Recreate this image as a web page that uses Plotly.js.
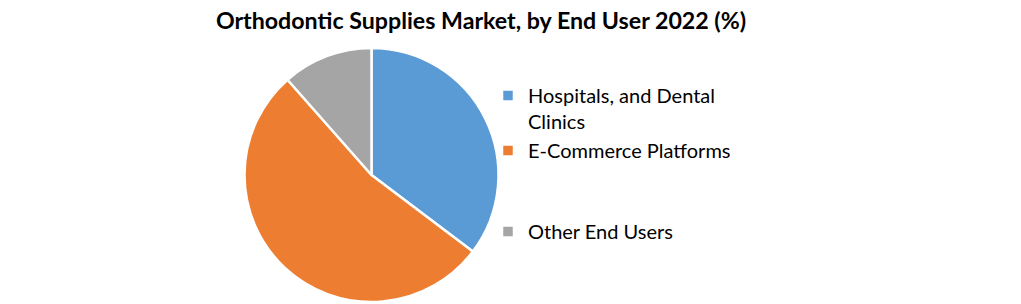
<!DOCTYPE html>
<html>
<head>
<meta charset="utf-8">
<script src="https://cdn.plot.ly/plotly-3.0.1.min.js"></script>
<style>html,body{margin:0;padding:0;background:#fff;}#chart{width:1021px;height:304px;}</style>
</head>
<body>
<div id="chart"></div>
<script>
const categories = ["Hospitals, and Dental<br>Clinics", "E-Commerce Platforms<br> <br> ", "Other End Users"];
const shares = [35.3, 53.2, 11.5];
const colors = ["#5B9BD5", "#ED7D31", "#A5A5A5"];

const W = 1021, H = 304;
const cx = 371.5, cy = 175, R = 127;

const trace = {
  type: "pie",
  labels: categories,
  values: shares,
  sort: false,
  direction: "clockwise",
  rotation: 0,
  textinfo: "none",
  hoverinfo: "label+percent",
  marker: {colors: colors, line: {color: "#ffffff", width: 2.5}},
  domain: {x: [(cx - R) / W, (cx + R) / W], y: [(H - cy - R) / H, (H - cy + R) / H]}
};

const layout = {
  width: W, height: H,
  margin: {l: 0, r: 0, t: 0, b: 0, autoexpand: false},
  paper_bgcolor: "#ffffff",
  font: {family: "Lato, 'Open Sans', sans-serif", color: "#000000"},
  title: {
    text: "<b>Orthodontic Supplies Market, by End User 2022 (%)</b>",
    font: {size: 23.2, family: "Lato, 'Open Sans', sans-serif", color: "#000000"},
    x: 481 / W, xref: "paper", xanchor: "center",
    y: 1 - 21 / H, yref: "container", yanchor: "middle"
  },
  showlegend: true,
  legend: {
    x: 488 / W, xanchor: "left",
    y: 1 - 76 / H, yanchor: "top",
    font: {size: 20, color: "#000000"},
    valign: "top",
    bgcolor: "rgba(0,0,0,0)"
  }
};

Plotly.newPlot("chart", [trace], layout, {displayModeBar: false, staticPlot: true});
</script>
</body>
</html>
